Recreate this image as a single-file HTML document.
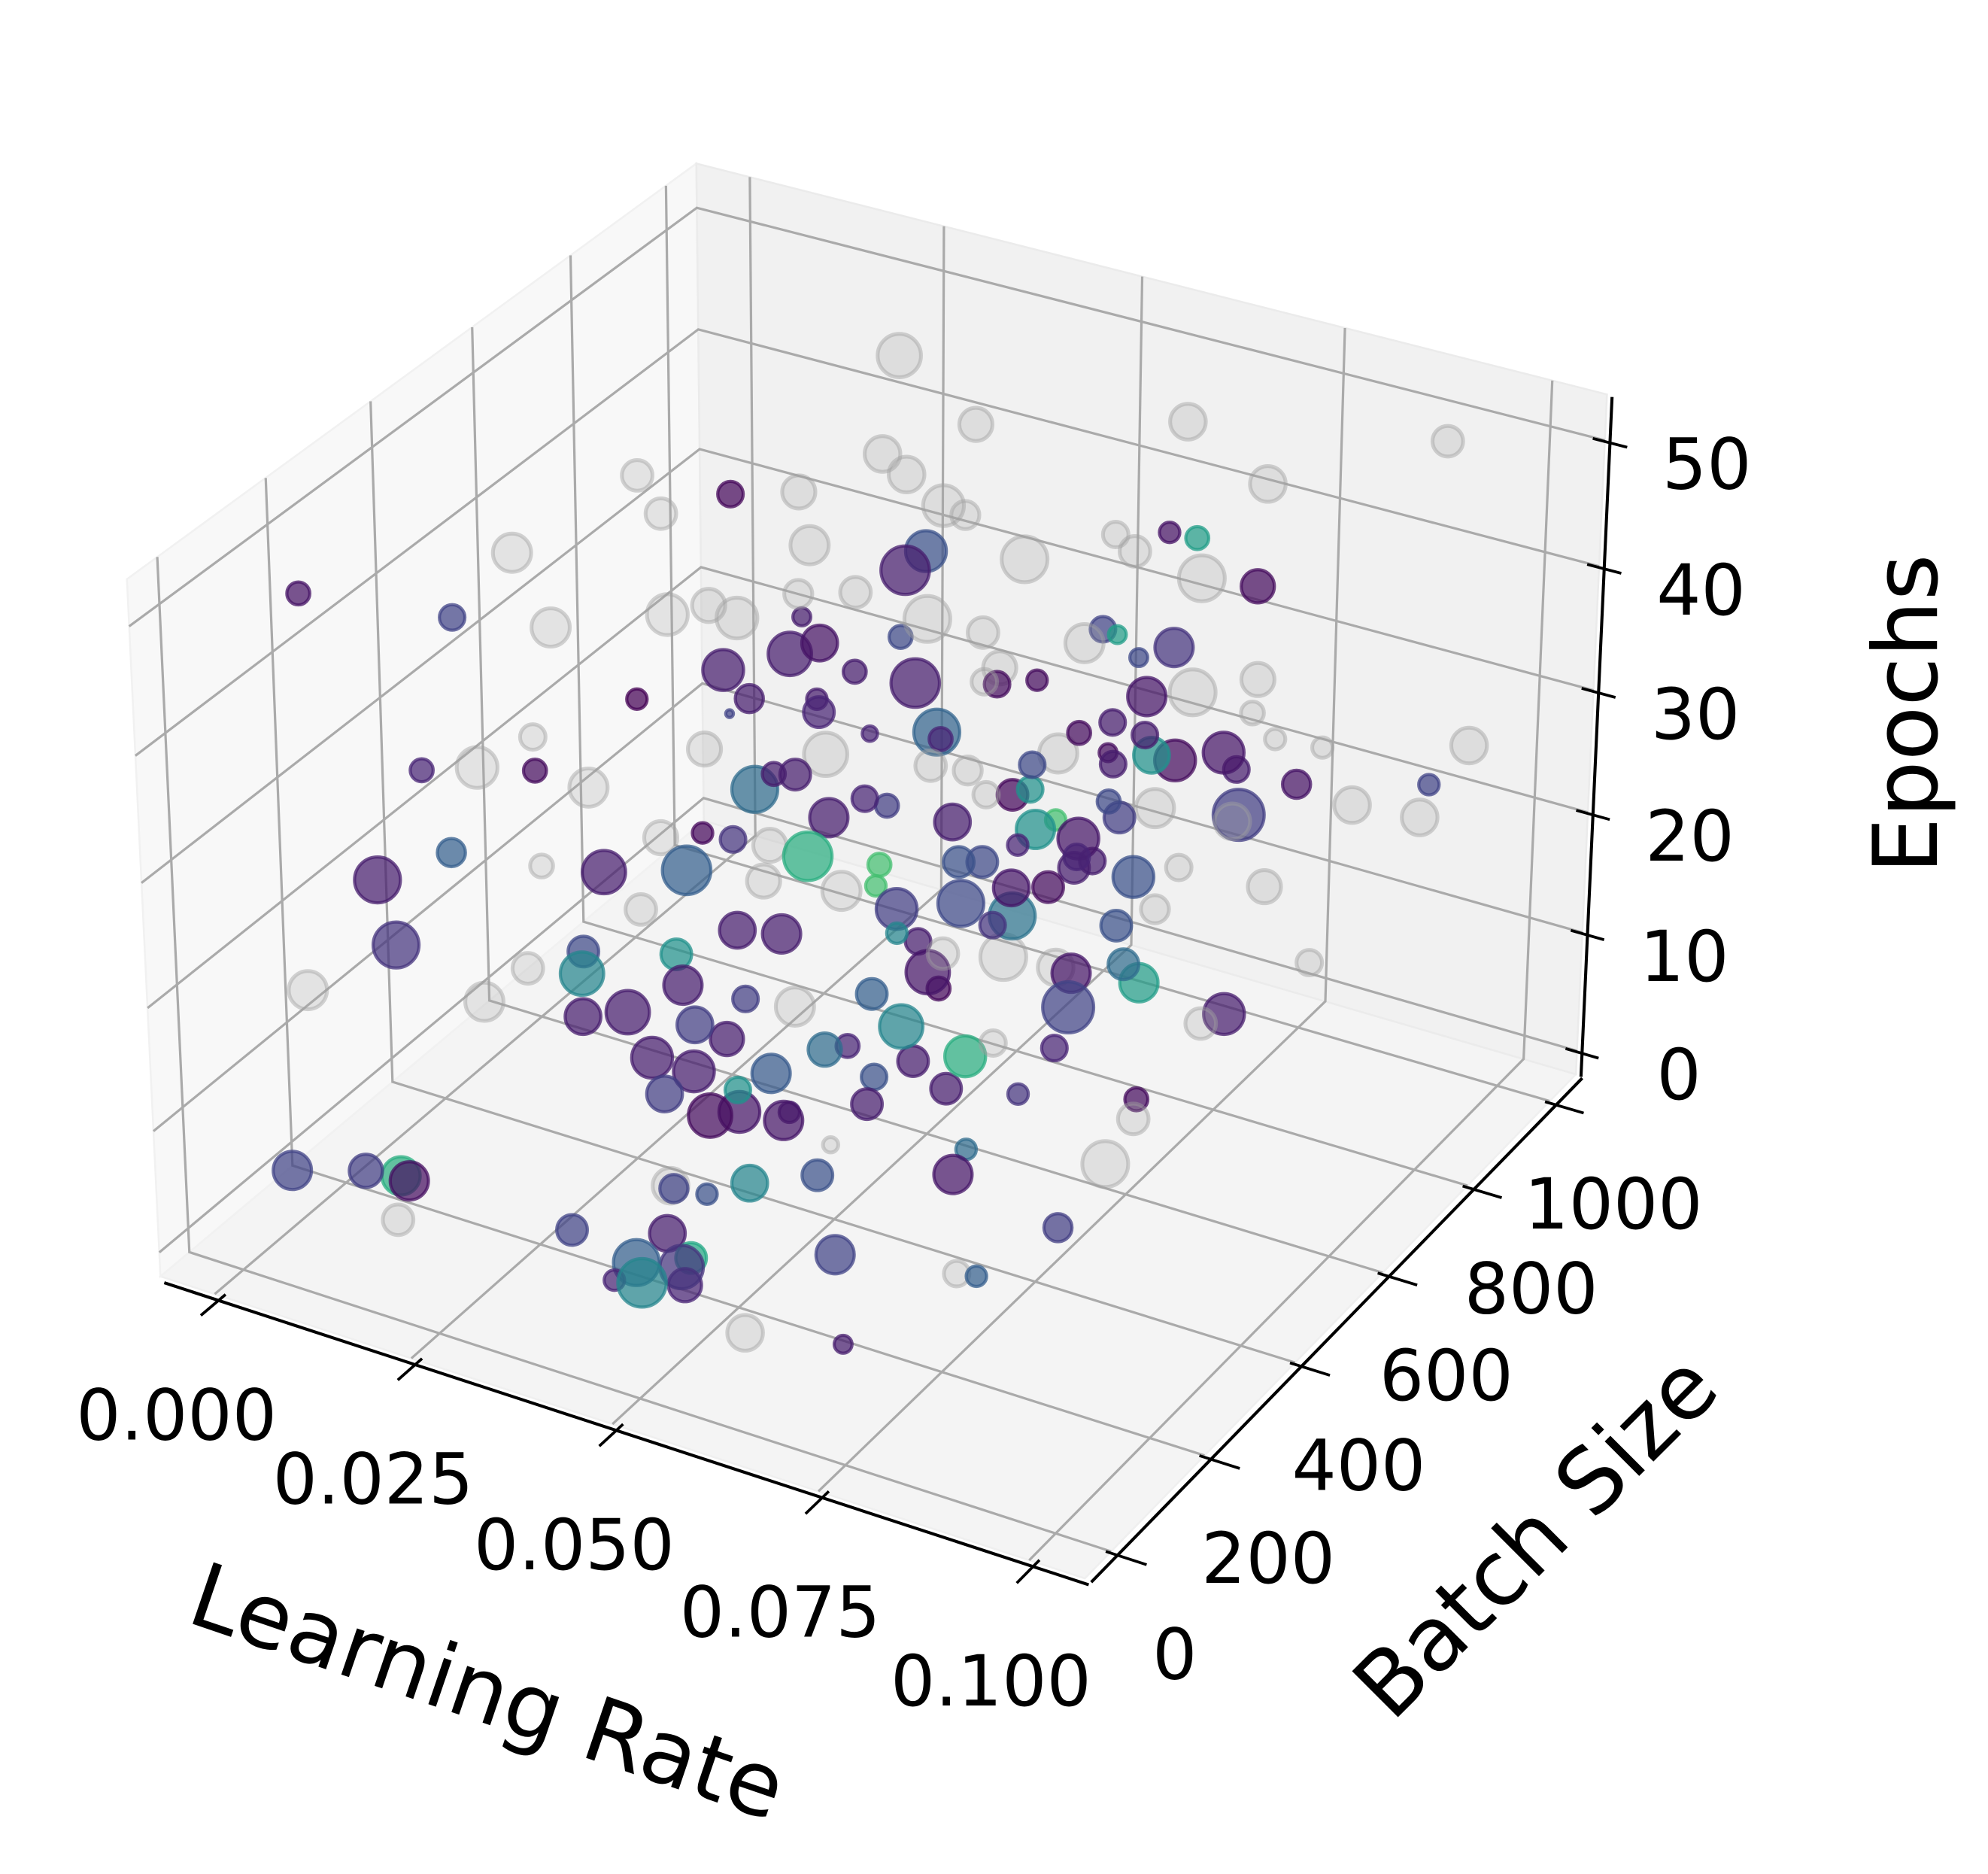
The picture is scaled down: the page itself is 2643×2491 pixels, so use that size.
<!DOCTYPE html>
<html><head><meta charset="utf-8"><title>3D scatter</title>
<style>
html,body{margin:0;padding:0;background:#fff;}
svg{display:block;}
text{font-family:"DejaVu Sans","Liberation Sans",sans-serif;fill:#000;}
</style></head>
<body>
<svg id="chart" width="2643" height="2491" viewBox="0 0 1560 1470" preserveAspectRatio="none" xmlns="http://www.w3.org/2000/svg">
<g id="panes"></g>
<g id="grid"></g>
<g id="points"></g>
<g id="axes"></g>
<text x="375" y="1350" font-size="70" text-anchor="middle" transform="rotate(18.8 375 1350)">Learning Rate</text>
<text x="1222" y="1222" font-size="70" text-anchor="middle" transform="rotate(-45 1222 1222)">Batch Size</text>
<text x="1520" y="560" font-size="70" text-anchor="middle" transform="rotate(-90 1520 560)">Epochs</text>
</svg>
<script>
// ---- axis limits / ticks ----
const xLim = [-0.007, 0.1065];
const yLim = [-55, 1065];
const zLim = [-2, 53.6];
const xTicks = [0, 0.025, 0.05, 0.075, 0.1];
const xTickLabels = ["0.000", "0.025", "0.050", "0.075", "0.100"];
const yTicks = [0, 200, 400, 600, 800, 1000];
const yTickLabels = ["0", "200", "400", "600", "800", "1000"];
const zTicks = [0, 10, 20, 30, 40, 50];
const zTickLabels = ["0", "10", "20", "30", "40", "50"];

// ---- coloured runs ----
const lrC = [.0026,.0105,.0176,.039,.0494,.066,.0664,.071,.040,.0333,.0336,.0385,.0522,.0456,.0604,.030,.0318,.0597,.0454,.0352,.048,.0655,.034,.058,.072,.0608,.0837,.0696,.0173,.0132,.0412,.0567,.034,.029,.0538,.0583,.0777,.0558,.0755,.0703,.0642,.0879,.0777,.0693,.0735,.0898,.0744,.0532,.0648,.087,.0682,.0604,.017,.0151,.0308,.0449,.0406,.0366,.0543,.0341,.0553,.0324,.0322,.0528,.0458,.0689,.0602,.0561,.0524,.0738,.0463,.0663,.0798,.0157,.0225,.033,.0238,.0385,.0248,.044,.0484,.0468,.0689,.047,.064,.073,.068,.0446,.0517,.0562,.0663,.0764,.0793,.0662,.0852,.0366,.028,.0326,.042,.062,.044,.0434,.0345,.0336,.049,.0493,.0389,.0698,.0681,.0798,.043,.0328,.0452,.0358,.0587,.0505,.0643,.0644,.0417,.0351,.0576,.0482,.0668,.0752,.0068,.0124,.0154,.0194,.044,.0412,.0568,.055,.0684,.0604,.0383,.0466,.0476,.0504,.0495,.0518,.0508,.047,.0638,.0781,.0777,.0747];
const batchC = [113,281,729,785,561,841,897,953,505,281,449,505,337,617,393,561,673,281,449,729,785,561,897,841,617,953,449,729,113,393,337,169,505,673,561,785,505,897,617,729,897,561,785,953,1009,1009,393,729,561,337,673,841,169,57,449,281,505,617,393,785,561,225,393,449,561,337,617,729,841,505,785,673,393,79,337,169,505,281,617,393,561,729,449,841,617,337,225,673,897,953,729,561,393,785,281,113,337,505,617,393,729,225,281,449,561,393,617,337,561,729,169,393,281,505,337,561,393,225,281,449,169,337,505,617,1,57,79,35,169,281,113,281,337,505,57,113,35,1,113,57,79,1,169,393,225,1];
const epochsC = [49.0,43.3,40.6,38.0,45.2,42.5,40.4,35.6,41.6,41.0,38.0,38.4,47.0,37.5,43.6,31.5,28.2,47.9,36.8,24.2,28.8,39.4,18.7,33.3,42.4,28.8,48.0,33.5,37.9,28.0,39.5,43.1,26.7,21.5,32.6,26.7,40.1,21.0,35.1,28.9,21.9,37.8,27.3,16.5,18.0,21.0,39.8,22.5,30.6,44.0,26.6,18.3,29.5,30.7,24.4,32.1,22.5,21.2,33.4,16.2,26.2,29.0,23.5,26.0,19.2,33.0,23.4,20.2,16.6,30.2,13.8,21.4,33.6,24.9,16.9,22.9,11.2,19.2,9.6,20.6,17.8,12.3,27.2,7.5,20.7,28.8,31.0,10.6,10.6,8.8,14.2,18.7,24.3,7.5,26.6,22.1,13.0,9.2,7.6,21.0,4.6,18.9,12.5,8.0,8.2,12.2,2.6,17.7,10.2,9.5,15.2,7.1,12.0,3.6,13.8,5.6,12.0,16.7,9.2,2.2,16.0,8.8,8.1,5.4,7.6,6.7,6.1,8.1,7.7,2.6,12.8,7.0,7.8,2.2,7.2,6.6,7.3,7.5,5.2,7.0,4.5,7.0,6.4,3.4,5.5,7.7];
const accuracyC = [.05,.2,.02,.25,.08,.05,.55,.03,.08,0,.08,.08,.05,.22,.08,.08,.08,.08,.1,.1,.03,.03,.32,.2,.55,.15,.22,.06,.1,.03,.2,.08,.35,.08,.1,.03,.08,.03,.08,.5,.03,.06,.08,.18,.05,.2,.22,.02,.5,.08,.22,.18,.3,.08,.02,.15,.62,.08,.1,.18,.08,.08,.3,.7,.7,.25,.1,.5,.7,.06,.22,.08,.1,.15,.22,.45,.5,.08,.08,.08,.18,.22,.06,.38,.03,.15,.45,.08,.08,.25,.25,.35,.06,.55,.2,.08,.08,.18,.3,.06,.02,.18,.08,.08,.45,.35,.1,.62,.1,.08,.18,.08,.5,.28,.25,.08,.08,.08,.03,.06,.06,.08,.15,.03,.2,.18,.62,.04,.2,.25,.45,.25,.06,.35,.2,.08,.3,.45,.6,.15,.1,.1,.2,.18,.3,.08];
const sizeC = [9,10,10,16,19,8,9,13,7,8,16,17,14,9,19,11,8,9,12,6,10,8,18,10,7,15,7,15,9,9,3,9,18,12,9,9,10,7,10,14,16,16,10,20,11,8,10,12,10,10,9,12,11,18,8,10,19,15,10,9,14,17,19,9,8,12,8,15,8,16,12,10,10,18,12,17,12,15,14,15,16,18,14,18,12,10,8,10,12,16,12,12,15,15,20,14,17,10,12,17,9,14,16,13,17,13,9,16,10,16,14,16,10,15,10,12,12,12,17,16,15,8,8,9,15,13,15,15,11,8,14,12,15,8,12,14,18,19,12,17,13,8,15,11,8,7];

// ---- grey (other) runs ----
const lrG = [.0291,.0333,.0368,.0356,.059,.0906,.0197,.033,.0261,.0444,.0407,.069,.0182,.041,.0513,.0533,.0337,.03,.025,.0217,.0301,.0463,.073,.0709,.0621,.042,.0586,.0619,.0692,.0888,.0707,.075,.0239,.0242,.0164,.0208,.0229,.0655,.0348,.0433,.0823,.0823,.0945,.0891,.0946,.0888,.022,.0174,.0223,.0249,.0486,.0158,.0753,.0709,.096,.059,.0459,.0058,.0133,.0117,.0288,.0767,.0495,.0829,.0795,.0776,.0779,.0633,.0629,.0753,.0201,.0401,.0618,.0843];
const batchG = [897,841,729,953,1009,1009,505,617,449,729,841,1009,281,505,785,953,337,169,561,673,785,393,785,673,505,897,449,729,841,617,953,281,225,113,449,617,841,337,953,1009,785,897,1009,561,729,1009,505,337,729,841,281,561,281,785,505,953,841,57,281,393,673,169,897,617,225,505,561,169,1,225,1,225,897,841];
const epochsG = [48.7,41.5,47.1,42.6,45.1,48.9,49.2,46.8,49.0,44.3,39.5,41.8,49.7,47.4,39.5,36.7,45.9,49.5,38.1,33.0,33.1,48.0,41.8,47.0,44.3,25.5,46.5,36.4,30.2,41.9,25.2,49.9,38.1,39.4,25.4,23.9,16.6,39.9,13.8,15.0,30.6,26.3,25.1,32.6,29.4,18.1,20.5,22.9,12.5,5.4,29.5,11.5,41.3,18.0,30.6,6.6,3.8,20.1,12.9,11.5,2.0,33.0,1.7,13.2,24.6,4.5,6.3,15.2,6.1,5.2,6.3,5.1,17.5,10.8];
const sizeG = [17,14,14,13,14,12,12,13,12,16,11,14,15,15,18,10,16,15,13,16,12,11,18,12,12,13,18,15,18,13,9,10,10,16,15,13,17,12,11,15,8,8,14,14,14,14,13,9,13,15,13,12,10,10,13,11,18,15,15,12,15,12,14,12,10,18,12,6,14,10,12,14,15,10];

// ---- projection (matplotlib-style perspective, elev 30, azim -60) ----
const ASP = [1.1905, 1.1905, 0.8929];
const S = 6980, OX = 691.5, OY = 656.5;
function proj(x, y, z) {
  const qx = ((x - xLim[0]) / (xLim[1] - xLim[0]) - 0.5) * ASP[0];
  const qy = ((y - yLim[0]) / (yLim[1] - yLim[0]) - 0.5) * ASP[1];
  const qz = ((z - zLim[0]) / (zLim[1] - zLim[0]) - 0.5) * ASP[2];
  const xv = 0.8660 * qx + 0.5 * qy;
  const yv = -0.25 * qx + 0.4330 * qy + 0.8660 * qz;
  const wq = 0.4330 * qx - 0.75 * qy + 0.5 * qz;
  const d = 10 - wq;
  return [OX + S * xv / d, OY - S * yv / d, d];
}
const NS = "http://www.w3.org/2000/svg";
function mk(tag, attrs, parent) {
  const e = document.createElementNS(NS, tag);
  for (const k in attrs) e.setAttribute(k, attrs[k]);
  parent.appendChild(e);
  return e;
}
const viridis = [[68,1,84],[72,36,117],[65,68,135],[53,95,141],[42,120,142],[33,145,140],[34,168,132],[68,191,112],[122,209,81],[189,223,38],[253,231,37]];
function vcol(t) {
  t = Math.max(0, Math.min(1, t)) * 10;
  const i = Math.min(9, Math.floor(t)), f = t - i;
  const a = viridis[i], b = viridis[i + 1];
  return "rgb(" + [0,1,2].map(k => Math.round(a[k] + (b[k] - a[k]) * f)).join(",") + ")";
}
function poly(pts) { return pts.map(p => p[0].toFixed(1) + "," + p[1].toFixed(1)).join(" "); }

const [x0, x1] = xLim, [y0, y1] = yLim, [z0, z1] = zLim;
const gP = document.getElementById("panes");
const gG = document.getElementById("grid");
const gPt = document.getElementById("points");
const gA = document.getElementById("axes");

// panes
let e;
e = mk("polygon", {points: poly([proj(x0,y0,z0),proj(x1,y0,z0),proj(x1,y1,z0),proj(x0,y1,z0)]), fill:"#f4f4f4", stroke:"#efefef", "stroke-width":1.5}, gP);


e = mk("polygon", {points: poly([proj(x0,y0,z0),proj(x0,y1,z0),proj(x0,y1,z1),proj(x0,y0,z1)]), fill:"#f8f8f8", stroke:"#f1f1f1", "stroke-width":1.5}, gP);


e = mk("polygon", {points: poly([proj(x0,y1,z0),proj(x1,y1,z0),proj(x1,y1,z1),proj(x0,y1,z1)]), fill:"#f1f1f1", stroke:"#ebebeb", "stroke-width":1.5}, gP);



// gridlines
const GS = {stroke:"#aaaaaa", "stroke-width":1.9, fill:"none"};
function gl(pts, name) {
  const p = mk("polyline", Object.assign({points: poly(pts)}, GS), gG);
  
  
}
xTicks.forEach(x => gl([proj(x,y0,z0), proj(x,y1,z0), proj(x,y1,z1)], "x-gridline"));
yTicks.forEach(y => gl([proj(x1,y,z0), proj(x0,y,z0), proj(x0,y,z1)], "y-gridline"));
zTicks.forEach(z => gl([proj(x0,y0,z), proj(x0,y1,z), proj(x1,y1,z)], "z-gridline"));

// points: collect, sort far to near
const marks = [];
lrG.forEach((v, i) => { const p = proj(v, batchG[i], epochsG[i]); marks.push({p, r: sizeG[i], grey: true}); });
lrC.forEach((v, i) => { const p = proj(v, batchC[i], epochsC[i]); marks.push({p, r: sizeC[i], c: vcol(accuracyC[i])}); });
marks.sort((a, b) => b.p[2] - a.p[2]);
marks.forEach(m => {
  let c;
  if (m.grey) {
    c = mk("circle", {cx: m.p[0].toFixed(1), cy: m.p[1].toFixed(1), r: m.r, fill: "#a8a8a8", "fill-opacity": 0.26, stroke: "#a0a0a0", "stroke-opacity": 0.45, "stroke-width": 3}, gPt);
    
    
  } else {
    c = mk("circle", {cx: m.p[0].toFixed(1), cy: m.p[1].toFixed(1), r: m.r, fill: m.c, "fill-opacity": 0.72, stroke: m.c, "stroke-opacity": 0.75, "stroke-width": 2.5}, gPt);
    
    
  }
});

// axis lines
const AS = {stroke:"#000", "stroke-width":2.4, fill:"none"};
e = mk("polyline", Object.assign({points: poly([proj(x0,y0,z0), proj(x1,y0,z0)]), transform:"translate(3,5)"}, AS), gA);


e = mk("polyline", Object.assign({points: poly([proj(x1,y0,z0), proj(x1,y1,z0)]), transform:"translate(5,3)"}, AS), gA);


e = mk("polyline", Object.assign({points: poly([proj(x1,y1,z0), proj(x1,y1,z1)]), transform:"translate(4,2)"}, AS), gA);



const TS = {stroke:"#000", "stroke-width":2.2};
const dy = y1 - y0, dx = x1 - x0;
xTicks.forEach((x, i) => {
  const a = proj(x, y0 + 0.012*dy, z0), b = proj(x, y0 - 0.03*dy, z0), c = proj(x, y0, z0);
  const t = mk("line", Object.assign({x1:a[0]+3, y1:a[1]+5, x2:b[0]+3, y2:b[1]+5}, TS), gA);
  
  
  const l = mk("text", {x: c[0]-30, y: c[1]+114, "font-size": 55, "text-anchor": "middle"}, gA);
  l.textContent = xTickLabels[i];
  
  
});
yTicks.forEach((y, i) => {
  const a = proj(x1 - 0.012*dx, y, z0), b = proj(x1 + 0.03*dx, y, z0), c = proj(x1, y, z0);
  const t = mk("line", Object.assign({x1:a[0]+5, y1:a[1]+3, x2:b[0]+5, y2:b[1]+3}, TS), gA);
  
  
  const l = mk("text", {x: c[0]+50, y: c[1]+100, "font-size": 55, "text-anchor": "middle"}, gA);
  l.textContent = yTickLabels[i];
  
  
});
zTicks.forEach((z, i) => {
  const a = proj(x1 - 0.018*dx, y1, z), b = proj(x1 + 0.018*dx, y1, z), c = proj(x1, y1, z);
  const t = mk("line", Object.assign({x1:a[0]+4, y1:a[1]+2, x2:b[0]+4, y2:b[1]+2}, TS), gA);
  
  
  const l = mk("text", {x: c[0]+80, y: c[1]+38, "font-size": 55, "text-anchor": "middle"}, gA);
  l.textContent = zTickLabels[i];
  
  
});
</script>
</body></html>
